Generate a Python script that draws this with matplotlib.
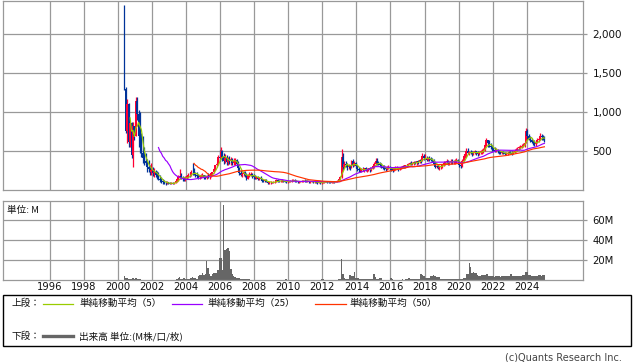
import matplotlib
matplotlib.use('Agg')
import matplotlib.pyplot as plt
import numpy as np
import pandas as pd
from matplotlib.patches import Rectangle
from matplotlib.lines import Line2D

# ---------------- data (monthly, May 2000 - Jan 2025) ----------------
start_month = '2000-05'
first_open = 2100

close = [
    1300, 760, 1100, 620, 860, 450, 820, 700,
    1150, 980, 700, 560, 480, 420, 380, 350, 300, 270, 240, 260,
    220, 240, 200, 190, 150, 130, 120, 100, 95, 90, 100, 90,
    85, 90, 85, 95, 120, 140, 170, 180, 160, 150, 140, 160,
    180, 200, 190, 240, 230, 220, 200, 180, 170, 180, 190, 200,
    170, 160, 180, 170, 190, 220, 230, 270, 320, 340, 430, 420,
    500, 430, 380, 420, 360, 390, 370, 400, 350, 380, 390, 340,
    280, 220, 200, 210, 230, 190, 150, 190, 200, 210, 180, 170,
    160, 170, 150, 160, 140, 120, 115, 130, 110, 95, 100, 105,
    100, 105, 110, 130, 120, 115, 120, 125, 115, 110, 105, 110,
    115, 120, 125, 130, 115, 110, 105, 110, 115, 120, 125, 120,
    115, 120, 100, 110, 115, 105, 110, 100, 95, 100, 95, 100,
    100, 110, 115, 105, 100, 95, 105, 110, 105, 115, 125, 140,
    170, 430, 300, 340, 320, 300, 320, 290, 370, 330, 350, 310,
    270, 260, 250, 270, 260, 280, 260, 270, 280, 260, 290, 310,
    340, 380, 350, 340, 320, 300, 290, 280, 270, 290, 300, 280,
    270, 260, 280, 290, 290, 270, 290, 300, 310, 300, 320, 330,
    340, 350, 340, 350, 360, 350, 370, 360, 390, 380, 440, 410,
    420, 390, 410, 400, 390, 380, 340, 300, 310, 290, 300, 310,
    330, 350, 360, 370, 350, 360, 380, 370, 370, 380, 390, 370,
    320, 310, 380, 440, 460, 500, 480, 490, 480, 470, 490, 500,
    480, 470, 490, 500, 510, 520, 580, 640, 600, 570, 550, 530,
    520, 510, 520, 500, 490, 480, 490, 480, 460, 470, 480, 490,
    480, 470, 490, 510, 520, 540, 550, 560, 570, 580, 600, 760,
    700, 660, 640, 620, 600, 590, 600, 650, 660, 700, 680, 670,
    640,
]

high = [
    2370, 1330, 1170, 1120, 880, 870, 880, 830,
    1200, 1190, 1030, 1000, 730, 700, 560, 480, 400, 390, 330, 350,
    300, 280, 260, 250, 230, 196, 170, 150, 130, 120, 115, 110,
    105, 100, 110, 100, 130, 160, 200, 270, 220, 180, 170, 180,
    200, 220, 230, 260, 350, 280, 240, 230, 210, 200, 210, 220,
    200, 190, 200, 220, 200, 230, 240, 280, 330, 360, 450, 516,
    560, 520, 480, 460, 450, 430, 440, 430, 420, 410, 420, 400,
    370, 300, 260, 240, 250, 250, 220, 210, 230, 240, 220, 210,
    190, 180, 180, 170, 180, 150, 140, 150, 140, 120, 110, 115,
    110, 115, 120, 140, 150, 135, 130, 140, 135, 125, 120, 120,
    125, 130, 140, 150, 140, 130, 125, 120, 125, 130, 135, 140,
    135, 130, 125, 120, 125, 120, 115, 120, 110, 110, 110, 105,
    110, 120, 125, 120, 115, 110, 110, 115, 115, 120, 130, 150,
    180, 525, 480, 370, 380, 350, 340, 330, 390, 400, 380, 360,
    330, 300, 290, 290, 300, 290, 300, 290, 290, 300, 300, 330,
    360, 420, 410, 380, 360, 350, 330, 320, 300, 310, 320, 310,
    300, 290, 300, 310, 310, 300, 300, 310, 320, 330, 330, 340,
    350, 360, 370, 360, 370, 380, 380, 390, 400, 400, 476, 460,
    460, 440, 430, 440, 430, 420, 400, 360, 330, 320, 310, 320,
    340, 370, 380, 400, 390, 380, 400, 400, 390, 400, 410, 400,
    380, 340, 400, 460, 480, 540, 540, 510, 520, 500, 510, 520,
    510, 500, 510, 520, 530, 540, 600, 670, 650, 640, 600, 580,
    560, 550, 540, 530, 520, 510, 500, 500, 495, 490, 490, 500,
    500, 500, 510, 530, 540, 560, 570, 580, 590, 600, 620, 800,
    780, 720, 690, 670, 650, 640, 620, 670, 680, 730, 720, 710,
    700,
]

low = [
    1280, 740, 600, 560, 560, 410, 300, 650,
    700, 900, 560, 475, 430, 350, 330, 320, 240, 230, 200, 190,
    180, 170, 175, 140, 130, 110, 95, 80, 75, 70, 75, 75,
    78, 75, 80, 75, 90, 110, 120, 150, 140, 120, 120, 120,
    140, 160, 170, 180, 200, 190, 170, 160, 150, 150, 160, 170,
    150, 140, 140, 160, 150, 170, 180, 220, 260, 300, 330, 380,
    400, 380, 340, 350, 330, 320, 340, 330, 320, 320, 330, 310,
    260, 200, 180, 170, 180, 170, 130, 140, 170, 180, 160, 150,
    140, 140, 130, 130, 130, 110, 100, 100, 100, 80, 80, 85,
    90, 90, 95, 100, 110, 105, 100, 110, 105, 100, 95, 95,
    100, 105, 110, 115, 105, 100, 95, 95, 100, 105, 105, 110,
    105, 100, 90, 95, 100, 95, 95, 90, 85, 90, 85, 85,
    90, 95, 100, 95, 90, 90, 90, 95, 95, 100, 105, 115,
    130, 160, 260, 290, 300, 260, 270, 260, 280, 300, 310, 290,
    250, 240, 230, 240, 250, 240, 250, 240, 250, 240, 250, 270,
    290, 330, 330, 320, 300, 280, 270, 260, 250, 260, 270, 260,
    250, 240, 250, 260, 270, 250, 260, 270, 280, 290, 280, 300,
    310, 320, 320, 320, 330, 340, 330, 340, 350, 350, 380, 390,
    400, 370, 370, 380, 370, 360, 330, 290, 280, 270, 260, 270,
    290, 310, 330, 340, 330, 320, 340, 340, 340, 340, 350, 340,
    300, 280, 300, 370, 420, 430, 460, 450, 460, 440, 450, 460,
    450, 440, 450, 460, 470, 480, 510, 570, 560, 550, 530, 510,
    500, 490, 490, 480, 470, 470, 460, 460, 450, 450, 450, 460,
    460, 450, 460, 480, 490, 510, 520, 530, 540, 550, 560, 600,
    650, 640, 620, 600, 580, 570, 570, 600, 620, 650, 650, 640,
    620,
]

volume_m = [
    4, 2, 2, 1.5, 1, 1, 2, 1.5,
    2, 1.5, 1, 0.8, 0.5, 0.5, 0.5, 0.4, 0.4, 0.3, 0.3, 0.3,
    0.3, 0.3, 0.3, 0.3, 0.3, 0.3, 0.3, 0.3, 0.3, 0.3, 0.3, 0.3,
    0.3, 0.3, 0.3, 0.3, 0.5, 1, 2, 3, 1.5, 1, 2, 1.5,
    1.5, 1.5, 1.5, 2, 3, 2, 2, 1.5, 4, 5, 5, 7,
    5, 6, 19, 12, 6, 4, 6, 7, 7, 7, 10, 22,
    22, 10, 75, 30, 31, 32, 29, 11, 6, 4, 3, 2.5,
    2.5, 2, 1.5, 1.5, 1, 1, 1, 0.8, 0.6, 0.5, 0.5, 0.5,
    0.5, 0.4, 0.4, 0.4, 0.3, 0.3, 0.3, 0.3, 0.3, 0.3, 0.3, 0.3,
    0.3, 0.3, 0.3, 0.5, 0.4, 0.3, 0.3, 0.3, 0.3, 0.3, 1.0, 0.3,
    0.3, 0.3, 0.3, 0.3, 0.3, 0.3, 0.3, 0.3, 0.3, 0.3, 0.3, 0.3,
    0.3, 0.3, 0.3, 0.3, 0.3, 0.3, 0.3, 0.3, 0.3, 0.3, 0.3, 0.8,
    0.8, 0.5, 0.3, 0.3, 0.3, 0.3, 0.3, 0.3, 0.3, 0.3, 0.5, 1,
    1, 20.7, 6, 2, 1.5, 1, 1, 5, 4, 4, 8, 2,
    2, 2, 1.5, 1.5, 1.5, 1, 1, 1, 1, 1, 1, 1,
    6, 3, 1, 1, 2, 2, 0.5, 0.5, 0.5, 0.5, 0.5, 0.5,
    2, 1.5, 0.5, 0.5, 0.5, 0.5, 0.5, 0.5, 0.8, 0.5, 0.8, 1,
    2.5, 2, 1, 1, 1, 1, 1, 1, 1, 5.7, 4.7, 4.5,
    2, 2, 2, 2, 4, 4, 5, 4, 3, 3, 3, 1.5,
    1.5, 1.5, 1.5, 1.5, 1.5, 1.5, 1.5, 1.5, 1.5, 1.5, 1.5, 1.5,
    1.5, 1.5, 1.5, 2, 2, 6, 6, 17, 13, 7, 8, 7.5,
    7.5, 5, 4, 4, 5, 5, 5, 6, 6, 4.5, 4, 4,
    4, 3.5, 4, 4.5, 4, 3.5, 4, 4, 4.5, 4, 4, 4.5,
    6, 6, 3.7, 3.7, 3.7, 3.7, 3.7, 3.7, 3.7, 5, 5, 8.3,
    8, 5, 5, 4.5, 4.5, 4.5, 4, 4, 5, 5, 4, 5,
    5,
]

price_ticks = [500, 1000, 1500, 2000]
price_tick_labels = ['500', '1,000', '1,500', '2,000']
vol_ticks = [20, 40, 60]
vol_tick_labels = ['20M', '40M', '60M']
year_ticks = list(range(1996, 2025, 2))

ma_periods = [5, 25, 50]
ma_labels = ['単純移動平均（5）', '単純移動平均（25）', '単純移動平均（50）']

# ---------------- styling ----------------
W, H = 638, 362
RED = '#ff0033'
BLUE = '#003399'
MA_COLORS = ['#99cc00', '#9900ff', '#ff3300']
GRID = '#999999'
VOLC = '#666666'
TXT = '#111111'
CJK = ['Noto Sans CJK JP', 'DejaVu Sans']
LFS = 6.9

def fx(px):
    return px / W

def fy(py):
    return 1 - py / H

close = np.array(close, float)
high = np.array(high, float)
low = np.array(low, float)
vol = np.array(volume_m, float)

periods = pd.period_range(start_month, periods=len(close), freq='M')
x = np.array([p.year + (p.month - 0.5) / 12 for p in periods])
opn = np.r_[first_open, close[:-1]]
up = close >= opn
cols = np.where(up, RED, BLUE)

fig = plt.figure(figsize=(W / 100, H / 100), dpi=100)
fig.patch.set_facecolor('white')

L, R = 3.3, 582.7
ax1 = fig.add_axes([fx(L), fy(190.3), fx(R - L), (190.3 - 0.5) / H])
ax2 = fig.add_axes([fx(L), fy(280), fx(R - L), (280 - 201) / H])

xlim = (1993.26, 2027.29)
for ax in (ax1, ax2):
    ax.set_xlim(*xlim)
    for s in ax.spines.values():
        s.set_color(GRID)
        s.set_linewidth(0.9)
    ax.set_xticks(year_ticks)
    ax.grid(True, color=GRID, linewidth=0.9)
    ax.set_axisbelow(True)
    ax.yaxis.tick_right()
    ax.tick_params(axis='y', colors=GRID, length=3, width=0.9, pad=4,
                   labelcolor=TXT, labelsize=7.5)
    ax.tick_params(axis='x', length=0)

# price panel
ax1.set_ylim(0, 2433)
ax1.set_yticks(price_ticks)
ax1.set_yticklabels(price_tick_labels)
ax1.tick_params(axis='x', labelbottom=False)

lo = np.minimum(low, np.minimum(opn, close))
hi = np.maximum(high, np.maximum(opn, close))
ax1.vlines(x, lo, hi, colors=cols, linewidth=0.9, zorder=2)
ax1.bar(x, np.abs(close - opn), bottom=np.minimum(opn, close), width=0.11,
        color=cols, linewidth=0, zorder=2)

s = pd.Series(close)
for n, c in zip(ma_periods, MA_COLORS):
    ax1.plot(x, s.rolling(n).mean(), color=c, linewidth=0.85, zorder=3)

# volume panel
ax2.set_ylim(0, 79)
ax2.set_yticks(vol_ticks)
ax2.set_yticklabels(vol_tick_labels)
ax2.tick_params(axis='y', labelsize=7.2)
ax2.bar(x, vol, width=1 / 12, color=VOLC, linewidth=0, zorder=2)
ax2.tick_params(axis='x', labelsize=7.2, labelcolor=TXT, pad=1.5)
ax2.set_xticklabels([str(y) for y in year_ticks])
fig.text(fx(7), fy(210), '単位: M', fontsize=LFS, family=CJK, color=TXT,
         va='center', ha='left')

# legend box
fig.add_artist(Rectangle((fx(3.3), fy(346)), fx(630.7 - 3.3), (346 - 295.3) / H,
                         transform=fig.transFigure, fill=False,
                         edgecolor='black', linewidth=1))
row1, row2 = 303.5, 336
fig.text(fx(11), fy(row1), '上段：', fontsize=LFS, family=CJK, color=TXT, va='center')
fig.text(fx(11), fy(row2), '下段：', fontsize=LFS, family=CJK, color=TXT, va='center')
legend_pos = [(43, 73, 79), (172, 202, 207), (315, 346, 350)]
for (x0, x1, xt), lab, c in zip(legend_pos, ma_labels, MA_COLORS):
    fig.add_artist(Line2D([fx(x0), fx(x1)], [fy(row1)] * 2, transform=fig.transFigure,
                          color=c, linewidth=0.9))
    fig.text(fx(xt), fy(row1), lab, fontsize=LFS, family=CJK, color=TXT, va='center')
fig.add_artist(Line2D([fx(43), fx(73)], [fy(row2)] * 2, transform=fig.transFigure,
                      color=VOLC, linewidth=2.4))
fig.text(fx(79), fy(row2), '出来高 単位:(M株/口/枚)', fontsize=LFS, family=CJK,
         color=TXT, va='center')

fig.text(fx(621.7), fy(357), '(c)Quants Research Inc.', fontsize=7.0,
         family=['DejaVu Sans'], color='#444444', va='center', ha='right')

fig.savefig('out.png', dpi=100, facecolor='white')
